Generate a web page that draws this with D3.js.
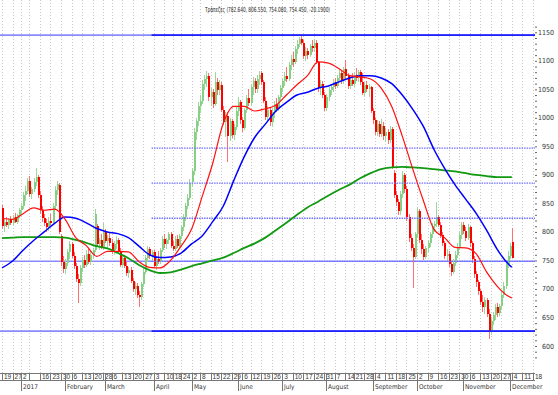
<!DOCTYPE html>
<html>
<head>
<meta charset="utf-8">
<script src="https://cdn.jsdelivr.net/npm/d3@7"></script>
<style>
body { margin: 0; background: #fff; }
svg { display: block; font-family: "Liberation Sans Narrow", "Arial Narrow", "DejaVu Sans Condensed", "Liberation Sans", sans-serif; }
</style>
</head>
<body>
<div id="chart"></div>
<script>
// Banks index, daily candles Dec 2016 - Dec 2017, with 3 moving averages

const title = "Τράπεζες (782.640, 806.550, 754.080, 754.450, -20.1900)";

// trading calendar
const firstDay = [2016, 11, 19];
const holidays = ["2016-12-26", "2017-01-06", "2017-02-27", "2017-04-14", "2017-04-17",
    "2017-05-01", "2017-06-05", "2017-08-15", "2017-12-25", "2017-12-26"];
const futureDays = 11;
const hiddenTicks = ["2017-01-09"];
const monthNames = ["", "February", "March", "April", "May", "June", "July",
    "August", "September", "October", "November", "December"];

// candles [open, high, low, close]
const dec16 = [
    [842, 848, 806, 810], [810, 822, 800, 818], [818, 826, 808, 812], [812, 824, 805, 822],
    [822, 828, 812, 815], [815, 830, 812, 826], [826, 834, 815, 818], [818, 832, 814, 829],
    [829, 842, 824, 838]
];
const jan = [
    [838, 850, 830, 846], [846, 870, 840, 865], [865, 880, 855, 872], [872, 895, 866, 890],
    [890, 898, 862, 866], [866, 878, 858, 875], [875, 895, 870, 888], [888, 912, 880, 896],
    [896, 900, 860, 864], [864, 872, 832, 838], [838, 845, 818, 824], [824, 832, 810, 815],
    [815, 822, 800, 808], [808, 826, 802, 820], [820, 832, 812, 816], [816, 850, 812, 845],
    [845, 880, 840, 874], [874, 890, 865, 884], [882, 886, 796, 800], [792, 796, 740, 748],
    [748, 758, 728, 735]
];
const feb = [
    [735, 752, 726, 745], [745, 770, 740, 765], [765, 784, 752, 778], [778, 782, 754, 758],
    [758, 764, 735, 740], [740, 746, 712, 718], [718, 726, 676, 710], [710, 742, 706, 736],
    [736, 756, 730, 750], [750, 760, 736, 742], [742, 768, 738, 762], [762, 770, 744, 748],
    [748, 766, 742, 760], [760, 772, 752, 768], [768, 840, 765, 832], [810, 814, 774, 778],
    [778, 790, 768, 786], [786, 796, 770, 774], [774, 816, 770, 800]
];
const mar = [
    [800, 806, 780, 784], [784, 794, 772, 790], [790, 800, 776, 780], [780, 788, 762, 768],
    [768, 784, 760, 778], [778, 792, 770, 786], [786, 790, 762, 766], [766, 772, 738, 742],
    [742, 760, 738, 755], [755, 760, 736, 740], [740, 748, 722, 728], [728, 738, 720, 734],
    [734, 738, 710, 714], [714, 720, 694, 700], [700, 712, 690, 706], [706, 710, 684, 690],
    [690, 696, 668, 686], [686, 712, 680, 708], [708, 736, 704, 730], [730, 760, 726, 754],
    [754, 776, 748, 770], [770, 774, 752, 758], [758, 768, 748, 764]
];
const apr = [
    [764, 768, 736, 740], [740, 756, 734, 752], [752, 766, 744, 748], [748, 772, 744, 768],
    [768, 792, 764, 788], [788, 796, 772, 778], [778, 790, 770, 786], [786, 800, 778, 796],
    [796, 800, 772, 776], [776, 784, 766, 770], [770, 792, 766, 788], [788, 794, 772, 776],
    [776, 796, 772, 792], [792, 812, 788, 808], [808, 832, 802, 826], [826, 850, 820, 846],
    [846, 866, 840, 860], [860, 892, 856, 886]
];
const may = [
    [888, 912, 880, 906], [906, 982, 900, 976], [976, 1000, 962, 994], [994, 1028, 986, 1020],
    [1020, 1040, 1008, 1030], [1030, 1066, 1024, 1060], [1060, 1076, 1048, 1068], [1068, 1082, 1054, 1074],
    [1074, 1078, 1030, 1036], [1036, 1052, 1020, 1046], [1046, 1050, 1018, 1024], [1024, 1080, 1020, 1062],
    [1062, 1070, 1040, 1048], [1048, 1066, 1040, 1058], [1058, 1062, 1010, 1014], [1014, 1020, 988, 992],
    [992, 1010, 966, 1004], [1004, 1010, 922, 968], [968, 1000, 960, 994], [994, 998, 964, 970],
    [970, 990, 962, 984], [984, 1020, 978, 1012]
];
const jun = [
    [1012, 1036, 1004, 1028], [1028, 1032, 990, 996], [996, 1002, 976, 982], [982, 1018, 978, 1014],
    [1014, 1040, 1008, 1034], [1034, 1050, 1020, 1026], [1026, 1060, 1022, 1054], [1054, 1072, 1040, 1064],
    [1064, 1070, 1044, 1050], [1050, 1076, 1044, 1068], [1068, 1082, 1058, 1076], [1078, 1082, 1058, 1062],
    [1062, 1066, 1026, 1030], [1030, 1036, 996, 1002], [1002, 1020, 994, 1014], [1014, 1018, 986, 992],
    [992, 1016, 984, 1010], [1010, 1030, 1000, 1024], [1024, 1034, 1010, 1016], [1016, 1040, 1012, 1036],
    [1036, 1058, 1030, 1052]
];
const jul = [
    [1052, 1070, 1046, 1064], [1064, 1080, 1056, 1074], [1074, 1090, 1062, 1068], [1068, 1098, 1064, 1092],
    [1092, 1110, 1084, 1104], [1104, 1116, 1090, 1098], [1098, 1126, 1094, 1120], [1120, 1136, 1112, 1130],
    [1130, 1142, 1124, 1138], [1138, 1146, 1128, 1132], [1132, 1136, 1104, 1108], [1108, 1124, 1100, 1118],
    [1118, 1122, 1104, 1110], [1110, 1130, 1106, 1126], [1126, 1136, 1116, 1122], [1122, 1138, 1118, 1132],
    [1132, 1136, 1094, 1098], [1098, 1100, 1046, 1052], [1052, 1066, 1040, 1060], [1060, 1064, 1034, 1040],
    [1040, 1046, 1012, 1018]
];
const aug = [
    [1018, 1042, 1012, 1036], [1036, 1054, 1030, 1048], [1048, 1060, 1040, 1054], [1054, 1068, 1046, 1062],
    [1062, 1070, 1050, 1056], [1056, 1076, 1052, 1070], [1070, 1084, 1062, 1078], [1078, 1082, 1060, 1066],
    [1066, 1090, 1060, 1086], [1086, 1102, 1068, 1074], [1074, 1078, 1050, 1056], [1056, 1072, 1050, 1066],
    [1066, 1078, 1056, 1060], [1060, 1080, 1054, 1076], [1076, 1088, 1064, 1070], [1070, 1084, 1062, 1080],
    [1080, 1084, 1058, 1062], [1062, 1078, 1040, 1044], [1044, 1062, 1038, 1058], [1058, 1064, 1046, 1050],
    [1050, 1060, 1036, 1054], [1054, 1056, 1008, 1012]
];
const sep = [
    [1012, 1018, 990, 996], [996, 1000, 970, 976], [976, 996, 968, 990], [990, 994, 966, 972],
    [972, 998, 966, 986], [986, 992, 962, 968], [968, 982, 958, 976], [976, 980, 954, 962],
    [962, 986, 956, 980], [980, 984, 910, 914], [904, 908, 860, 864], [864, 872, 846, 852],
    [852, 858, 830, 836], [836, 872, 830, 866], [866, 906, 860, 900], [900, 904, 868, 876],
    [876, 880, 820, 826], [826, 832, 782, 790], [790, 796, 766, 772], [772, 778, 702, 756],
    [756, 800, 752, 796]
];
const oct = [
    [796, 842, 790, 836], [836, 840, 780, 786], [786, 796, 762, 770], [770, 778, 750, 756],
    [756, 776, 752, 772], [772, 786, 764, 780], [780, 800, 774, 796], [796, 816, 790, 810],
    [810, 820, 800, 814], [814, 852, 808, 826], [826, 830, 808, 812], [812, 818, 790, 794],
    [794, 800, 776, 780], [780, 784, 752, 758], [758, 770, 748, 762], [762, 766, 738, 744],
    [744, 748, 722, 730], [730, 752, 726, 746], [746, 766, 740, 760], [760, 780, 754, 774],
    [774, 800, 770, 794], [794, 818, 788, 812]
];
const nov = [
    [812, 818, 796, 802], [802, 808, 784, 790], [790, 814, 786, 808], [808, 810, 774, 780],
    [780, 784, 746, 752], [752, 758, 720, 726], [726, 732, 704, 712], [712, 716, 690, 696],
    [696, 700, 672, 678], [678, 690, 660, 668], [668, 686, 656, 680], [680, 684, 650, 656],
    [656, 664, 612, 626], [626, 650, 620, 644], [644, 660, 636, 654], [654, 674, 646, 668],
    [668, 676, 650, 658], [658, 674, 652, 670], [670, 694, 664, 690], [690, 712, 684, 706],
    [706, 750, 700, 744], [744, 766, 736, 758]
];
const dec17 = [
    [758, 780, 752, 774.64], [782.64, 806.55, 754.08, 754.45]
];

// moving averages, read every 5 sessions (last one at the final session)
const maStep = 5;
const maFast = [824, 822, 832, 842, 838, 840, 822, 790, 776, 757,
    766, 766, 765, 748, 738, 737, 750, 775, 805, 862,
    920, 990, 1020, 1020, 1012, 1016, 1022, 1040, 1058, 1074,
    1098, 1096, 1086, 1074, 1072, 1068, 1052, 1020, 968, 910,
    855, 805, 790, 773, 772, 762, 730, 705, 688, 684];
const maMid = [737, 749, 768, 785, 800, 815, 826, 824, 816, 806,
    800, 797, 790, 775, 760, 755, 756, 763, 779, 793,
    818, 845, 890, 932, 966, 989, 1012, 1027, 1040, 1045,
    1052, 1056, 1063, 1070, 1074, 1074, 1070, 1060, 1040, 1015,
    985, 945, 912, 883, 858, 833, 803, 770, 745, 738];
const maSlow = [789, 790, 791, 791, 791, 791, 790, 786, 781, 775,
    771, 763, 754, 742, 733, 728, 729, 734, 740, 745,
    750, 755, 763, 772, 780, 790, 803, 816, 830, 843,
    853, 864, 874, 883, 894, 903, 910, 913, 914, 913,
    912, 910, 908, 906, 903, 900, 898, 896, 896, 896];

// horizontal levels
const fullLevels = [1145, 748.5, 626];
const fibStart = 71;
const fibSolid = [1145, 626];
const fibDotted = [947, 885.5, 824, 748.5];

// y axis ticks
const yMinor = d3.range(580, 1170, 10);
const yMajor = d3.range(600, 1151, 50);

const svgWidth = 558;
const svgHeight = 395;
const plotRight = 535;
const axisTop = 373;
const axisRow = 380.5;

const candles = [].concat(dec16, jan, feb, mar, apr, may, jun, jul, aug, sep, oct, nov, dec17);

// build trading days
const days = [];
const cur = new Date(Date.UTC(firstDay[0], firstDay[1], firstDay[2]));
while (days.length < candles.length + futureDays) {
    const wd = cur.getUTCDay();
    const iso = cur.toISOString().slice(0, 10);
    if (wd !== 0 && wd !== 6 && !holidays.includes(iso)) days.push(new Date(cur));
    cur.setUTCDate(cur.getUTCDate() + 1);
}

const weekIdx = days.map((d, i) => i).filter(i => i === 0 || days[i].getUTCDay() <= days[i - 1].getUTCDay());
const monthIdx = days.map((d, i) => i).filter(i => i > 0 && days[i].getUTCMonth() !== days[i - 1].getUTCMonth());

const x = d3.scaleLinear().domain([0, days.length - 1]).range([2, plotRight]);
const y = d3.scaleLinear().domain([600, 1150]).range([346, 32.3]);

const svg = d3.select("#chart").append("svg")
    .attr("width", svgWidth)
    .attr("height", svgHeight);

// vertical grid
svg.append("g").selectAll("line")
    .data(weekIdx)
    .join("line")
    .attr("x1", i => Math.round(x(i)) + 0.5)
    .attr("x2", i => Math.round(x(i)) + 0.5)
    .attr("y1", 0)
    .attr("y2", axisTop)
    .attr("stroke", "#c8c8c8")
    .attr("stroke-dasharray", "1,2");

// title
svg.append("text")
    .attr("x", 267.5)
    .attr("y", 12)
    .attr("text-anchor", "middle")
    .attr("font-size", 7)
    .attr("textLength", 125)
    .attr("lengthAdjust", "spacingAndGlyphs")
    .attr("fill", "#222")
    .text(title);

// full width levels
svg.append("g").selectAll("line")
    .data(fullLevels)
    .join("line")
    .attr("x1", 0)
    .attr("x2", plotRight)
    .attr("y1", d => y(d))
    .attr("y2", d => y(d))
    .attr("stroke", "#8a8aff")
    .attr("stroke-width", 1.6);

// candles
const cg = svg.append("g").attr("shape-rendering", "crispEdges");
const up = d => d[3] >= d[0];

cg.selectAll("line")
    .data(candles)
    .join("line")
    .attr("x1", (d, i) => Math.round(x(i)) + 0.5)
    .attr("x2", (d, i) => Math.round(x(i)) + 0.5)
    .attr("y1", d => y(d[1]))
    .attr("y2", d => y(d[2]))
    .attr("stroke", d => up(d) ? "#9cd89c" : "#ff7070");

cg.selectAll("rect")
    .data(candles)
    .join("rect")
    .attr("x", (d, i) => Math.round(x(i)) - 0.5)
    .attr("width", 2)
    .attr("y", d => y(Math.max(d[0], d[3])))
    .attr("height", d => Math.max(1, Math.abs(y(d[0]) - y(d[3]))))
    .attr("fill", d => up(d) ? "#86d086" : "#ff0000");

// fib levels from April on
svg.append("g").selectAll("line")
    .data(fibSolid)
    .join("line")
    .attr("x1", x(fibStart))
    .attr("x2", plotRight)
    .attr("y1", d => y(d))
    .attr("y2", d => y(d))
    .attr("stroke", "#1f1fff")
    .attr("stroke-width", 1.6);

svg.append("g").selectAll("line")
    .data(fibDotted)
    .join("line")
    .attr("x1", x(fibStart))
    .attr("x2", plotRight)
    .attr("y1", d => y(d))
    .attr("y2", d => y(d))
    .attr("stroke", "#6f6fff")
    .attr("stroke-width", 1.3)
    .attr("stroke-dasharray", "1.5,1");

// moving averages
const maIdx = k => Math.min(k * maStep, candles.length - 1);
const maLine = d3.line()
    .x((d, k) => x(maIdx(k)))
    .y(d => y(d))
    .curve(d3.curveMonotoneX);

[[maSlow, "#119911", 1.8], [maMid, "#0000ff", 1.5], [maFast, "#ff1010", 1.2]].forEach(([vals, col, w]) => {
    svg.append("path")
        .attr("d", maLine(vals))
        .attr("fill", "none")
        .attr("stroke", col)
        .attr("stroke-width", w);
});

// right axis
const yAxis = svg.append("g")
    .attr("transform", `translate(${plotRight},0)`)
    .call(d3.axisRight(y).tickValues(yMinor).tickSize(2).tickFormat(""));
yAxis.select(".domain").remove();
yAxis.selectAll("line").attr("stroke", "#666");

svg.append("g").selectAll("text")
    .data(yMajor)
    .join("text")
    .attr("x", 554)
    .attr("y", d => y(d) + 2.5)
    .attr("text-anchor", "end")
    .attr("font-size", 7)
    .attr("fill", "#333")
    .text(d => d);

// bottom axis box
const xAxis = svg.append("g")
    .attr("transform", `translate(0,${axisTop})`)
    .call(d3.axisBottom(x)
        .tickValues(weekIdx)
        .tickSize(axisRow - axisTop)
        .tickFormat(i => hiddenTicks.includes(days[i].toISOString().slice(0, 10)) ? "" : days[i].getUTCDate()));
xAxis.select(".domain").remove();
xAxis.selectAll("line").attr("stroke", "#777").attr("shape-rendering", "crispEdges");
xAxis.selectAll("text")
    .attr("text-anchor", "start")
    .attr("x", 1.5)
    .attr("y", 1)
    .attr("dy", "5.2")
    .attr("font-size", 6.5)
    .attr("fill", "#333");

svg.append("g").attr("shape-rendering", "crispEdges").selectAll("line")
    .data([axisTop, axisRow])
    .join("line")
    .attr("x1", 0)
    .attr("x2", plotRight)
    .attr("y1", d => d)
    .attr("y2", d => d)
    .attr("stroke", "#777");

const months = svg.append("g");
months.selectAll("line")
    .data(monthIdx)
    .join("line")
    .attr("x1", i => Math.round(x(i)) + 0.5)
    .attr("x2", i => Math.round(x(i)) + 0.5)
    .attr("y1", axisTop)
    .attr("y2", 391)
    .attr("stroke", "#777");
months.selectAll("text")
    .data(monthIdx)
    .join("text")
    .attr("x", i => Math.round(x(i)) + 2)
    .attr("y", 389)
    .attr("font-size", 6.5)
    .attr("fill", "#333")
    .text(i => days[i].getUTCMonth() === 0 ? days[i].getUTCFullYear() : monthNames[days[i].getUTCMonth()]);
</script>
</body>
</html>
